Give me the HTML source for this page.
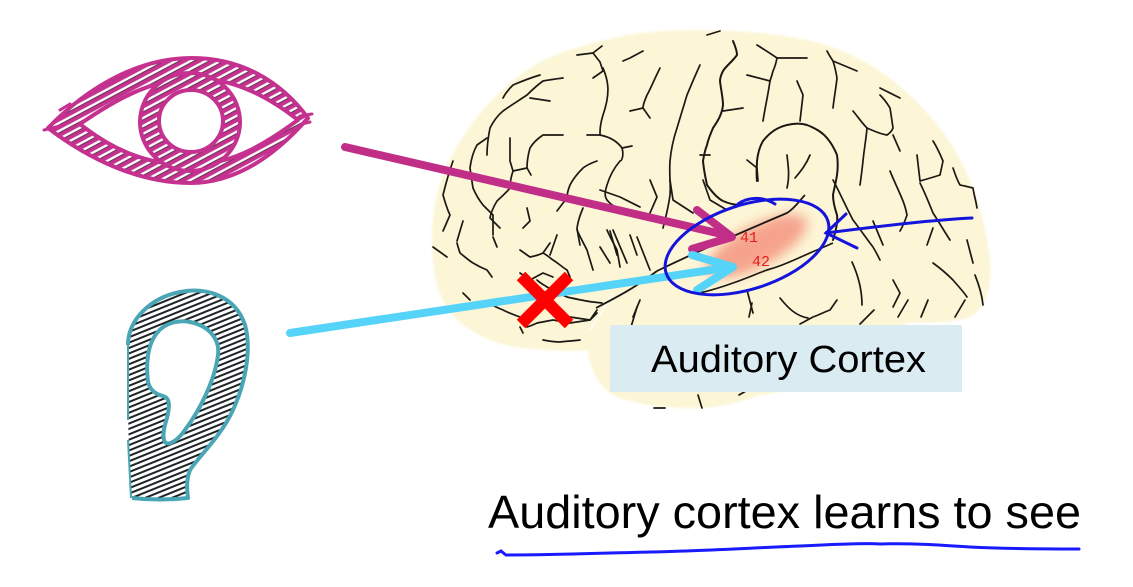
<!DOCTYPE html>
<html>
<head>
<meta charset="utf-8">
<style>
  html,body{margin:0;padding:0;background:#fff;}
  svg{display:block;}
</style>
</head>
<body>
<svg width="1133" height="587" viewBox="0 0 1133 587" xmlns="http://www.w3.org/2000/svg">
  <defs>
    <pattern id="eyeH" patternUnits="userSpaceOnUse" width="7" height="7" patternTransform="rotate(-28)">
      <rect width="7" height="7" fill="#c4318f"/>
      <rect y="2.2" width="7" height="2.6" fill="#ffffff"/>
      <rect y="4.6" width="7" height="0.7" fill="#3a2a33"/>
    </pattern>
    <pattern id="earH" patternUnits="userSpaceOnUse" width="5" height="5" patternTransform="rotate(-22)">
      <rect width="5" height="5" fill="#ffffff"/>
      <rect y="0" width="5" height="2" fill="#1e2426"/>
    </pattern>
    <filter id="blur" x="-50%" y="-50%" width="200%" height="200%">
      <feGaussianBlur stdDeviation="6"/>
    </filter>
    <filter id="soft" x="-5%" y="-5%" width="110%" height="110%">
      <feGaussianBlur stdDeviation="1"/>
    </filter>
  </defs>

  <!-- ================= EYE ================= -->
  <g>
    <path fill-rule="evenodd" fill="url(#eyeH)"
      d="M48,128 C90,85 140,58 192,58 C240,58 280,80 308,118 C280,150 240,183 190,183 C140,183 90,160 48,128 Z
         M80,124 C115,100 150,80 192,78 C235,78 270,98 298,120 C270,140 235,165 190,165 C145,165 110,148 80,124 Z"/>
    <path fill="none" stroke="#c4318f" stroke-width="4" stroke-linejoin="round"
      d="M48,128 C90,85 140,58 192,58 C240,58 280,80 308,118 C280,150 240,183 190,183 C140,183 90,160 48,128 Z"/>
    <path fill="none" stroke="#c4318f" stroke-width="4" stroke-linejoin="round"
      d="M80,124 C115,100 150,80 192,78 C235,78 270,98 298,120 C270,140 235,165 190,165 C145,165 110,148 80,124 Z"/>
    <path fill="none" stroke="#c4318f" stroke-width="3" stroke-linecap="round" d="M44,130 L60,126 M300,116 L312,114 M302,124 L310,122 M60,110 L70,104"/>
    <path fill-rule="evenodd" fill="url(#eyeH)"
      d="M140,122 A50,49 0 1,0 240,122 A50,49 0 1,0 140,122 Z M159,121 A32,31 0 1,0 223,121 A32,31 0 1,0 159,121 Z"/>
    <ellipse cx="190" cy="122" rx="50" ry="49" fill="none" stroke="#c4318f" stroke-width="4"/>
    <ellipse cx="191" cy="121" rx="32" ry="31" fill="#fff" stroke="#c4318f" stroke-width="4"/>
  </g>

  <!-- ================= EAR ================= -->
  <g>
    <path fill-rule="evenodd" fill="url(#earH)"
      d="M128,345 C128,320 150,298 180,292 C205,287 235,295 245,325 C252,350 245,385 232,412 C220,437 200,455 190,470 C186,480 187,490 188,498 C170,500 150,500 132,498 C128,470 128,400 128,345 Z
         M157,333 C165,322 180,320 190,322 C210,326 220,340 218,355 C215,380 200,410 185,430 C178,440 170,445 166,443 C162,440 163,430 167,418 C170,405 170,398 163,396 C155,394 150,390 148,382 C146,365 147,345 157,333 Z"/>
    <path fill="none" stroke="#4aa5b4" stroke-width="4" stroke-linejoin="round"
      d="M128,345 C128,320 150,298 180,292 C205,287 235,295 245,325 C252,350 245,385 232,412 C220,437 200,455 190,470 C186,480 187,490 188,498 C170,500 150,500 132,498"/>
    <path fill="none" stroke="#4aa5b4" stroke-width="4" stroke-linejoin="round"
      d="M157,333 C165,322 180,320 190,322 C210,326 220,340 218,355 C215,380 200,410 185,430 C178,440 170,445 166,443 C162,440 163,430 167,418 C170,405 170,398 163,396 C155,394 150,390 148,382 C146,365 147,345 157,333 Z"/>
    <path fill="none" stroke="#4aa5b4" stroke-width="2" d="M128,345 L128,420 M128,440 L131,498"/>
  </g>

  <!-- ================= BRAIN ================= -->
  <g>
    <path fill="#fcf6d6" filter="url(#soft)"
      d="M540,62 C575,45 625,33 665,31 C720,28 790,32 835,48 C880,65 915,95 945,135 C970,170 985,215 990,260
         C992,290 985,310 968,318 C945,324 925,322 905,323 L905,330 C880,360 800,392 760,395
         C740,402 720,408 700,408 C670,409 640,405 620,398 C600,390 590,372 588,350
         C570,352 540,350 515,347 C490,343 465,330 450,312 C437,295 432,270 432,240
         C432,205 440,175 455,150 C475,115 505,82 540,62 Z"/>
    <path fill="none" stroke="#ffffff" stroke-width="1.5" opacity="0.9" d="M590,330 C598,318 606,305 613,293"/>

    <g fill="none" stroke="#1c1814" stroke-width="1.7" stroke-linecap="round" stroke-linejoin="round">
      <!-- top-left area -->
      <path d="M577,55 L593,53 L600,62 L603,71 L593,78"/>
      <path d="M593,53 L602,46"/>
      <path d="M603,68 C608,80 611,92 603,115 C600,125 600,130 600,135 L587,135"/>
      <path d="M600,135 C610,137 617,141 622,148 C624,155 622,161 620,161 C614,168 610,175 607,185 C604,195 603,200 617,208"/>
      <path d="M622,148 L632,146"/>
      <path d="M643,51 L630,58 L623,61"/>
      <path d="M660,68 C654,80 650,90 647,95 C645,100 643,104 643,108 L650,118"/>
      <path d="M630,111 L643,108"/>
      <path d="M700,65 C694,78 690,88 687,95 C683,108 680,118 677,128 C673,140 671,150 670,161 C669,175 671,185 670,195 C668,210 665,220 663,228"/>
      <path d="M733,41 C736,48 737,52 737,55 C732,62 726,66 723,71 C721,75 720,78 720,81 C721,90 723,98 723,105 C722,115 717,122 713,128 C710,135 708,140 707,145 C705,150 704,155 703,161 C704,172 706,180 707,185 C712,192 717,198 723,201 C730,204 735,205 740,205" stroke-width="2"/>
      <path d="M723,111 L743,108"/>
      <path d="M710,155 L700,155"/>
      <path d="M707,35 L720,31"/>
      <path d="M563,78 C555,79 548,80 543,81 C536,86 531,91 527,95 C518,101 510,106 503,111 C497,116 493,122 490,128 C488,138 487,147 487,155"/>
      <path d="M530,98 L550,101"/>
      <path d="M540,75 C530,78 520,82 513,85 C508,90 505,94 503,98"/>
      <path d="M563,135 L543,135 C537,139 533,143 530,148 C528,155 527,162 527,168 L513,171 C511,177 510,183 510,188 C506,193 501,197 497,201 C494,206 491,212 490,218 L500,228"/>
      <path d="M527,168 L531,175"/>
      <path d="M597,161 C591,163 587,165 583,168 C578,173 573,179 570,185 C568,190 567,195 567,198 C563,203 560,207 557,211"/>
      <path d="M510,138 C510,146 510,154 510,161 L513,171"/>
      <path d="M487,138 L477,145 C473,152 471,160 470,168 C471,175 472,182 473,188 C476,195 479,200 483,205 C486,208 490,212 493,215 L493,235"/>
      <path d="M453,161 C449,172 446,183 443,195 C445,202 447,209 450,215 L443,231"/>
      <path d="M527,208 L530,221 L523,228"/>
      <path d="M557,235 L550,255"/>
      <path d="M583,208 C580,215 578,221 577,228 C578,235 579,240 580,245"/>
      <path d="M610,231 L617,255"/>
      <path d="M630,235 L637,255"/>
      <path d="M463,221 L457,241"/>
      <!-- top right -->
      <path d="M757,45 C765,50 771,54 777,58 C776,63 775,67 773,71 C772,75 771,78 770,81 C768,95 765,108 763,121"/>
      <path d="M777,58 L807,58"/>
      <path d="M747,75 L770,81"/>
      <path d="M797,81 C799,86 801,90 803,95 C802,104 801,112 800,121"/>
      <path d="M827,51 C829,55 831,58 833,61 C835,67 836,72 837,78 C836,88 834,98 833,108"/>
      <path d="M833,61 L857,71"/>
      <!-- big loop -->
      <path d="M757,181 C756,172 757,165 757,161 C758,152 760,146 763,141 C770,132 778,127 787,125 C795,123 801,123 807,125 C815,128 822,132 827,138 C832,144 835,150 837,155 C838,162 838,168 837,175 C836,182 834,189 833,195 C833,202 835,209 837,215 C838,222 836,230 833,240" stroke-width="2"/>
      <path d="M747,160 L757,168 L758,181"/>
      <path d="M787,155 C788,165 790,175 787,188"/>
      <path d="M810,155 C806,165 800,172 795,178"/>
      <!-- right -->
      <path d="M853,111 C858,117 862,123 867,128 C874,131 880,134 887,135 C890,133 892,131 893,128 C892,121 891,114 890,108 C887,103 884,99 880,95"/>
      <path d="M880,88 L900,98"/>
      <path d="M893,135 L900,151"/>
      <path d="M867,128 C866,140 864,150 863,161 C862,170 861,178 860,185"/>
      <path d="M890,171 C894,181 899,191 903,201 C905,206 906,210 907,215 C905,221 903,226 900,231"/>
      <path d="M917,155 C918,164 919,172 920,181 C927,179 934,177 940,175 C941,170 942,166 943,161 C940,154 937,147 933,141"/>
      <path d="M953,168 C955,174 957,180 960,185 C965,186 969,187 973,188 C974,195 976,201 977,208"/>
      <path d="M873,221 L883,245"/>
      <path d="M933,228 L927,245"/>
      <path d="M920,183 C925,193 929,203 933,213 C939,222 944,231 950,240"/>
      <path d="M933,263 C940,268 947,274 953,280 C958,286 963,291 967,297"/>
      <path d="M893,280 L900,293 L893,307"/>
      <path d="M967,240 L973,263"/>
      <path d="M833,180 C840,193 846,207 853,220 C860,229 866,238 873,247 C876,252 878,256 880,260"/>
      <path d="M852,262 C858,275 862,290 862,305"/>
      <path d="M975,275 C979,285 982,295 983,305"/>
      <!-- lower left frontal -->
      <path d="M433,247 L447,257"/>
      <path d="M457,243 C458,247 459,250 460,253 C464,256 468,260 473,263 C478,266 482,268 487,270 L492,277"/>
      <path d="M493,237 L497,247"/>
      <path d="M520,250 C523,252 527,255 530,257 C535,256 539,255 543,253 L550,243"/>
      <path d="M543,253 C547,255 550,258 553,260 C558,263 562,267 567,270 L570,277"/>
      <path d="M520,273 L530,280 L543,273 L553,277"/>
      <path d="M537,280 C540,283 544,285 547,287 C554,291 560,294 567,297 C576,299 585,301 593,302 L602,303"/>
      <path d="M487,303 C492,305 498,308 503,310 C509,313 514,315 520,317 C522,320 525,324 527,327 C530,326 533,325 537,323 C542,322 548,321 553,320 C559,321 564,322 570,323 C577,322 583,321 590,320 L597,313"/>
      <path d="M520,327 L523,333"/>
      <path d="M543,340 C549,341 554,342 560,342 C567,341 573,341 580,340"/>
      <path d="M463,293 L470,300"/>
      <path d="M577,230 C580,237 584,244 587,250 C589,257 591,263 593,270"/>
      <path d="M607,230 C610,237 614,244 617,250 L620,267"/>
      <path d="M640,300 L633,317"/>
      <path d="M570,317 L590,320 L597,310"/>
      <!-- middle -->
      <path d="M600,190 L620,197 L640,207"/>
      <path d="M650,180 L657,197 L650,213"/>
      <path d="M670,180 L673,200 L693,213"/>
      <path d="M703,180 L710,200 L727,210"/>
      <path d="M600,247 L610,263"/>
      <path d="M613,230 L627,263"/>
      <path d="M637,237 L650,270"/>
      <!-- temporal -->
      <path d="M631,327 L637,307"/>
      <path d="M752,303 L749,317"/>
      <path d="M747,290 L753,313"/>
      <path d="M800,324 C804,322 809,319 813,317 C819,315 824,312 830,310 L837,300"/>
      <path d="M860,324 L874,310"/>
      <path d="M898,317 L908,300"/>
      <path d="M921,317 L928,300"/>
      <path d="M955,317 L965,300"/>
      <path d="M698,395 L702,408"/>
      <path d="M654,408 L665,408"/>
      <path d="M739,395 L746,391"/>
      <path d="M780,298 C788,308 796,316 808,318"/>
    </g>
  </g>

  <!-- pink glow -->
  <ellipse cx="757" cy="246" rx="56" ry="20" transform="rotate(-28 757 246)" fill="#f59a84" opacity="0.85" filter="url(#blur)"/>
  <ellipse cx="757" cy="246" rx="44" ry="13" transform="rotate(-28 757 246)" fill="#f6a08a" opacity="0.7" filter="url(#blur)"/>
  <!-- fissure lines -->
  <path fill="none" stroke="#1c1814" stroke-width="1.8" d="M596,308 C615,298 635,288 657,271 C690,255 735,235 787,213 C795,208 800,200 805,195"/>
  <path fill="none" stroke="#1c1814" stroke-width="1.7" d="M700,293 C712,290 722,287 733,283 C745,279 756,274 767,270 C774,268 780,266 787,263 C797,259 807,254 817,250 L833,243"/>

  <text x="740" y="242" font-family="Liberation Mono, monospace" font-size="15" fill="#e41e1e">41</text>
  <text x="752" y="266" font-family="Liberation Mono, monospace" font-size="15" fill="#e41e1e">42</text>

  <!-- ================= ARROWS ================= -->
  <g fill="none" stroke-linecap="round" stroke-linejoin="round">
    <path d="M345,147 L730,236" stroke="#c12e88" stroke-width="8"/>
    <path d="M697,210 L732,237 L692,249" stroke="#c12e88" stroke-width="8"/>
    <path d="M290,333 L731,267" stroke="#56d3f8" stroke-width="8"/>
    <path d="M692,255 L733,267 L697,290" stroke="#56d3f8" stroke-width="8"/>
  </g>

  <!-- red X -->
  <g stroke="#fe0000" stroke-width="12" stroke-linecap="butt">
    <line x1="521" y1="276" x2="569" y2="324"/>
    <line x1="569" y1="276" x2="521" y2="324"/>
  </g>

  <!-- blue ellipse -->
  <g fill="none" stroke="#1414dc" stroke-width="3" stroke-linecap="round">
    <ellipse cx="747" cy="247" rx="85" ry="42" transform="rotate(-18 747 247)"/>
    <path d="M738,204 C748,197 762,196 775,204"/>
    <path d="M972,218 C930,220 880,226 826,233"/>
    <path d="M846,214 L826,233 L857,248"/>
  </g>

  <!-- Auditory Cortex box -->
  <rect x="610" y="325" width="352" height="67" fill="#daebf2"/>
  <text x="651" y="372" font-family="Liberation Sans, Arial, sans-serif" font-size="38" fill="#000" textLength="275" lengthAdjust="spacingAndGlyphs">Auditory Cortex</text>

  <!-- caption -->
  <text x="488" y="528" font-family="Liberation Sans, Arial, sans-serif" font-size="46" fill="#000" textLength="593" lengthAdjust="spacingAndGlyphs">Auditory cortex learns to see</text>
  <path fill="none" stroke="#1a1aff" stroke-width="3" stroke-linecap="round"
    d="M497,553 L501,551 L506,555 C560,555 600,553 650,552 C700,551 750,548 800,546 C840,544 870,543 880,544 C910,543 940,545 970,547 C1010,549 1050,549 1079,549"/>
</svg>
</body>
</html>
